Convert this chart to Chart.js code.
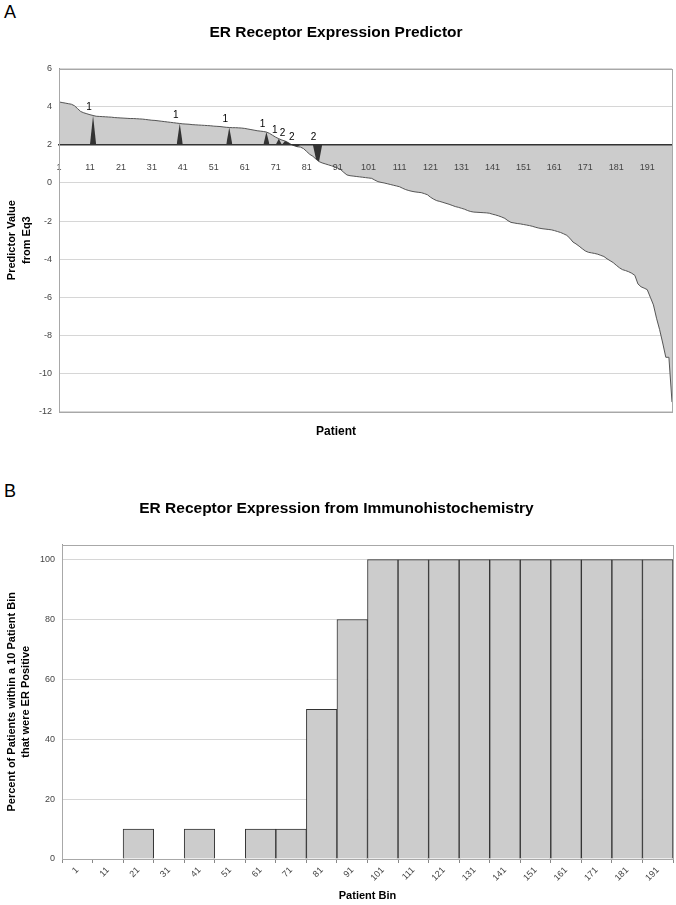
<!DOCTYPE html>
<html><head><meta charset="utf-8">
<script src="https://cdn.jsdelivr.net/npm/chart.js@4"></script>
<style>
html,body{margin:0;padding:0;background:#fff;}
body{width:676px;height:905px;position:relative;overflow:hidden;font-family:"Liberation Sans",Arial,sans-serif;}
#c1{position:absolute;left:0;top:0;}
#c2{position:absolute;left:0;top:450px;}
.lbl{position:absolute;font-size:18px;color:#000;line-height:18px;}
</style></head><body>
<div class="lbl" style="left:4px;top:3px">A</div>
<div class="lbl" style="left:4px;top:482px">B</div>
<canvas id="c1" width="676" height="450"></canvas>
<canvas id="c2" width="676" height="455"></canvas>
<script>
// ---------- Panel A data ----------
const predictorValues = [
  4.25,4.22,4.19,4.16,4.13,4.05,3.90,3.75,3.68,3.63,
  3.58,3.54,3.50,3.49,3.48,3.47,3.46,3.45,3.43,3.42,
  3.41,3.40,3.39,3.38,3.38,3.37,3.36,3.35,3.33,3.31,
  3.29,3.28,3.26,3.24,3.22,3.20,3.18,3.16,3.14,3.12,
  3.10,3.09,3.08,3.06,3.05,3.04,3.03,3.02,3.01,3.00,
  2.98,2.97,2.96,2.94,2.92,2.91,2.90,2.90,2.89,2.88,
  2.86,2.83,2.80,2.77,2.74,2.72,2.70,2.67,2.60,2.50,
  2.40,2.32,2.25,2.20,2.12,2.02,1.95,1.90,1.88,1.80,
  1.65,1.50,1.40,1.25,1.12,1.05,1.00,0.95,0.90,0.85,
  0.78,0.70,0.55,0.42,0.38,0.36,0.34,0.32,0.30,0.28,
  0.26,0.24,0.15,0.07,0.03,0.00,-0.04,-0.08,-0.12,-0.16,
  -0.20,-0.28,-0.35,-0.40,-0.44,-0.47,-0.49,-0.51,-0.56,-0.62,
  -0.75,-0.85,-0.93,-0.97,-1.02,-1.07,-1.12,-1.18,-1.24,-1.28,
  -1.33,-1.38,-1.45,-1.50,-1.53,-1.54,-1.55,-1.56,-1.57,-1.59,
  -1.64,-1.68,-1.73,-1.79,-1.86,-1.98,-2.07,-2.10,-2.13,-2.15,
  -2.18,-2.21,-2.24,-2.28,-2.33,-2.37,-2.40,-2.42,-2.44,-2.46,
  -2.50,-2.55,-2.60,-2.67,-2.75,-2.90,-3.10,-3.20,-3.32,-3.45,
  -3.57,-3.64,-3.67,-3.70,-3.74,-3.80,-3.86,-3.98,-4.08,-4.18,
  -4.32,-4.45,-4.55,-4.60,-4.66,-4.74,-4.85,-5.30,-5.45,-5.52,
  -5.60,-6.00,-6.40,-7.10,-7.70,-8.40,-9.15,-9.15,-11.50
];
// ER-negative (IHC) patients marked on the curve, grouped as labelled
const markerGroups = [[12],[40],[56],[68],[72],[74,75],[77,78],[84,85]];
const AXIS_CROSS = 2;
const yTickMin = -12, yTickMax = 6, yTickStep = 2;

// ---------- Panel B data ----------
const binLabels = ['1','11','21','31','41','51','61','71','81','91','101','111','121','131','141','151','161','171','181','191'];
const erPositivePct = [0,0,10,0,10,0,10,10,50,80,100,100,100,100,100,100,100,100,100,100];

// ---------- build ----------
const FONT = '"Liberation Sans", Arial, sans-serif';
Chart.defaults.font.family = FONT;
const patientLabels = predictorValues.map((_, i) => String(i + 1));
const markedPatients = markerGroups.flat();
const markerSeries = predictorValues.map((v, i) => {
  const p = i + 1;
  if (markedPatients.includes(p)) return v;
  if (markedPatients.includes(p - 1) || markedPatients.includes(p + 1)) return AXIS_CROSS;
  return null;
});

const frame = {
  id: 'frame',
  afterDraw(chart) {
    const {ctx, chartArea: a} = chart;
    ctx.save();
    ctx.strokeStyle = '#a8a8a8';
    ctx.lineWidth = 1;
    ctx.strokeRect(Math.round(a.left) + 0.5, Math.round(a.top) + 0.5, Math.round(a.right - a.left), Math.round(a.bottom - a.top));
    ctx.restore();
  }
};

const markerLabels = {
  id: 'markerLabels',
  afterDatasetsDraw(chart) {
    const {ctx, scales: {x, y}} = chart;
    ctx.save();
    ctx.font = '10px ' + FONT;
    ctx.fillStyle = '#000';
    ctx.textAlign = 'center';
    ctx.textBaseline = 'middle';
    markerGroups.forEach(grp => {
      const cx = grp.reduce((s, p) => s + (p - 1), 0) / grp.length;
      const top = Math.max(AXIS_CROSS, ...grp.map(p => predictorValues[p - 1]));
      ctx.fillText(String(grp.length), x.getPixelForValue(cx) - 4, y.getPixelForValue(top) - 8);
    });
    ctx.restore();
  }
};

new Chart(document.getElementById('c1'), {
  type: 'line',
  data: {
    labels: patientLabels,
    datasets: [
      { data: markerSeries, fill: {value: AXIS_CROSS}, backgroundColor: '#333333', borderWidth: 0,
        pointRadius: 0, spanGaps: false, tension: 0, order: 0 },
      { data: predictorValues, fill: {value: AXIS_CROSS}, backgroundColor: '#cccccc', borderColor: '#555555',
        borderWidth: 1, pointRadius: 0, tension: 0, order: 1 }
    ]
  },
  options: {
    animation: false, responsive: false, devicePixelRatio: 1,
    layout: {padding: {left: 0, right: 4, top: 0, bottom: 0}},
    plugins: {
      legend: {display: false}, tooltip: {enabled: false},
      title: {display: true, text: 'ER Receptor Expression Predictor', color: '#000',
        font: {size: 15.5, weight: 'bold'}, padding: {top: 23, bottom: 27}},
      subtitle: {display: true, position: 'bottom', text: 'Patient', color: '#000',
        font: {size: 12, weight: 'bold'}, padding: {top: 13, bottom: 11}}
    },
    scales: {
      x: {
        type: 'category', position: {y: AXIS_CROSS}, offset: false,
        grid: {display: false},
        border: {display: true, color: '#333', width: 1.5, z: 1},
        ticks: {autoSkip: false, maxRotation: 0, minRotation: 0, padding: 9, color: '#444', font: {size: 9}, z: 1,
          callback: function(v, i) { return i % 10 === 0 ? this.getLabelForValue(v) : ''; }},
        afterFit: s => { s.height = 0; s.paddingLeft = 0; s.paddingRight = 0; }
      },
      y: {
        min: yTickMin, max: yTickMax,
        ticks: {stepSize: yTickStep, color: '#444', font: {size: 9}, padding: 7},
        grid: {color: '#d6d6d6', drawTicks: false},
        border: {display: true, color: '#999'},
        title: {display: true, text: ['Predictor Value', 'from Eq3'], color: '#000',
          font: {size: 11, weight: 'bold', lineHeight: 1.36}, padding: {top: 4.5, bottom: 0}},
        afterFit: s => { s.width = 59; }
      }
    }
  },
  plugins: [frame, markerLabels]
});

new Chart(document.getElementById('c2'), {
  type: 'bar',
  data: {
    labels: binLabels,
    datasets: [{ data: erPositivePct, backgroundColor: '#cccccc', borderColor: '#333333', borderWidth: 1,
      barPercentage: 1, categoryPercentage: 1 }]
  },
  options: {
    animation: false, responsive: false, devicePixelRatio: 1,
    layout: {padding: {left: 0, right: 3, top: 0, bottom: 0}},
    plugins: {
      legend: {display: false}, tooltip: {enabled: false},
      title: {display: true, text: 'ER Receptor Expression from Immunohistochemistry', color: '#000',
        font: {size: 15.5, weight: 'bold'}, padding: {top: 49, bottom: 27}}
    },
    scales: {
      x: {
        grid: {display: true, drawOnChartArea: false, tickLength: 4, color: '#888', offset: true},
        border: {display: true, color: '#888'},
        ticks: {autoSkip: false, minRotation: 45, maxRotation: 45, padding: 2, color: '#444', font: {size: 9}},
        title: {display: true, text: 'Patient Bin', color: '#000', font: {size: 11, weight: 'bold'},
          padding: {top: 0, bottom: 2}},
        afterFit: s => { s.height = 46; }
      },
      y: {
        min: 0, max: 105,
        ticks: {stepSize: 20, includeBounds: false, color: '#444', font: {size: 9}, padding: 7},
        grid: {color: '#d6d6d6', drawTicks: false},
        border: {display: true, color: '#999'},
        title: {display: true, text: ['Percent of Patients within a 10 Patient Bin', 'that were ER Positive'], color: '#000',
          font: {size: 11, weight: 'bold', lineHeight: 1.27}, padding: {top: 5, bottom: 0}},
        afterFit: s => { s.width = 62; }
      }
    }
  },
  plugins: [frame]
});
</script>
</body></html>
